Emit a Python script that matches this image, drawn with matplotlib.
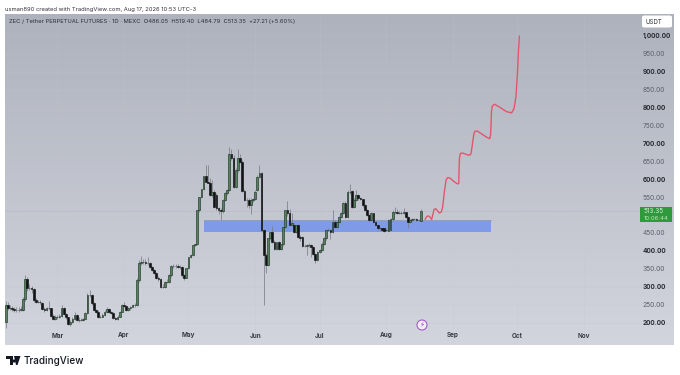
import numpy as np
import matplotlib
matplotlib.use("Agg")
import matplotlib.pyplot as plt
from matplotlib.patches import Rectangle, FancyBboxPatch, Circle, Polygon

# daily candles, Feb 5 -> Aug 17
opens = [204,250,241,241,240,237,237,237,237,267,
         323,297,297,294,264,260,260,255,239,237,
         241,241,221,213,216,218,220,241,225,216,
         199,203,213,223,209,209,209,213,229,278,
         278,255,237,232,218,218,223,232,239,232,
         229,215,213,218,232,250,248,237,241,246,
         250,252,320,367,371,371,367,367,357,348,
         339,325,323,302,302,315,315,334,359,359,
         359,357,357,334,327,353,385,390,418,422,
         515,552,575,610,594,591,557,566,557,520,
         515,512,543,562,571,671,659,580,628,659,
         650,569,543,543,529,543,545,571,608,619,
         459,390,362,436,455,427,408,427,408,420,
         469,515,506,473,473,455,473,441,439,416,
         416,418,418,413,394,376,399,404,422,436,
         459,461,455,483,469,483,497,506,534,497,
         566,568,524,543,557,548,545,529,515,501,
         487,506,483,474,464,464,464,461,458,460,
         489,511,511,508,508,508,509,497,483,488,
         490,491,488,486.05]
closes = [250,241,241,240,237,237,237,239,267,323,
          297,297,294,264,260,260,258,239,237,241,
          241,221,213,216,218,220,241,225,216,199,
          203,213,223,209,209,209,211,229,278,278,
          255,237,232,218,218,223,232,239,232,229,
          215,213,218,232,250,248,237,241,246,250,
          252,320,367,371,371,367,367,357,348,339,
          325,323,302,302,315,315,334,359,359,359,
          357,357,334,327,353,385,390,418,422,515,
          552,575,610,594,591,557,566,524,520,515,
          512,543,562,571,671,659,580,628,659,650,
          569,543,543,529,543,545,566,608,619,459,
          390,362,436,455,427,408,427,408,420,469,
          515,506,473,478,455,473,441,436,416,416,
          418,418,413,394,376,399,404,422,436,459,
          461,455,483,469,483,497,506,534,497,566,
          566,524,543,557,548,545,529,515,501,487,
          506,483,474,464,464,461,458,460,487,489,
          511,511,508,508,508,509,497,483,488,490,
          491,488,486.14,513.35]
highs = [262,258,252,248,246,246,245,247,272,335,
         330,310,305,298,270,266,264,258,246,246,
         262,243,226,222,222,226,250,244,228,218,
         210,218,232,226,216,214,215,232,285,292,
         282,258,240,236,224,228,236,244,241,234,
         232,218,222,235,254,258,252,244,248,253,
         256,325,375,388,380,378,385,370,360,352,
         342,332,326,310,318,322,338,362,366,364,
         365,362,360,338,340,358,392,396,422,430,
         520,556,580,640,640,605,600,572,562,524,
         520,546,566,575,690,685,668,632,685,672,
         655,574,548,548,548,550,570,612,640,622,
         462,395,366,440,470,432,414,430,414,424,
         472,540,518,508,480,462,476,445,442,420,
         422,424,422,416,396,402,408,425,440,462,
         465,463,515,488,486,500,510,538,540,570,
         587,570,548,570,560,552,547,532,518,504,
         510,508,486,476,468,466,466,464,490,494,
         514,525,518,512,512,520,510,500,490,493,
         493,494,491,519.40]
lows = [187,238,236,235,231,232,231,233,235,262,
        290,292,285,260,256,256,254,236,232,234,
        236,217,208,210,212,214,218,222,212,194,
        193,200,210,206,204,205,206,212,226,272,
        250,234,228,214,214,216,220,228,228,225,
        212,208,210,216,230,244,234,234,238,244,
        246,248,315,362,366,362,362,354,345,336,
        322,318,298,298,298,312,312,330,354,355,
        353,352,330,320,325,350,382,386,414,418,
        510,548,570,605,590,555,552,520,515,505,
        487,508,540,558,568,655,576,576,622,645,
        565,540,525,520,505,538,542,568,604,455,
        252,339,358,432,424,405,404,404,404,416,
        465,500,470,470,450,450,438,430,412,412,
        390,413,385,390,367,372,396,400,418,432,
        456,435,452,465,465,480,494,503,492,494,
        560,520,520,540,544,542,525,512,498,484,
        484,480,470,460,460,457,455,456,456,484,
        486,505,504,504,503,504,494,465,480,485,
        488,486,484,484.79]

# hand drawn forecast line (day number, price)
drawn_days = [195.0,195.8,196.6,197.4,198.1,198.6,199.2,200.0,200.8,201.7,202.6,203.2,204.0,
              204.8,205.6,206.7,208.2,209.8,210.4,210.7,210.8,211.0,211.5,212.5,215.2,216.3,
              216.9,217.7,218.3,219.4,221.4,223.7,225.1,225.5,225.7,225.9,226.3,227.4,229.9,
              233.0,235.3,236.4,237.3,238.0,238.4,238.9]
drawn_prices = [489,497,499,495,489,501,517,519,513,507,510,523,566,
                599,606,604,596,589,588,590,617,659,673,674,668,670,
                692,727,735,735,727,718,714,724,752,789,805,810,801,
                789,786,798,831,896,952,1000]

# zone box
zone_days = [92.2, 225.9]
zone_prices = [454, 487.5]

month_days = [24, 55, 85, 116, 146, 177, 208, 238, 269]
month_names = ["Mar", "Apr", "May", "Jun", "Jul", "Aug", "Sep", "Oct", "Nov"]
price_ticks = [1000, 950, 900, 850, 800, 750, 700, 650, 600, 550, 450, 400, 350, 300, 250, 200]
last_price = 513.35

W, H = 680, 375
fig = plt.figure(figsize=(W / 100, H / 100), dpi=100, facecolor="white")
plt.rcParams["font.family"] = ["Inter", "DejaVu Sans"]

ax = fig.add_axes([5 / W, (H - 345) / H, 669 / W, 331.5 / H])

# grey gradient behind everything
grad = np.linspace(0, 1, 256).reshape(-1, 1)
cmap = matplotlib.colors.LinearSegmentedColormap.from_list("bg", ["#aeb2bc", "#d2d5de"])
ax.imshow(grad, extent=[-0.33, 310.8, 139.3, 1062.7], aspect="auto", cmap=cmap, zorder=0, origin="upper")
ax.set_xlim(-0.33, 310.8)
ax.set_ylim(139.3, 1062.7)

for s in ax.spines.values():
    s.set_visible(False)

ax.set_xticks(month_days)
ax.set_xticklabels(month_names, fontsize=4.6, fontweight="bold", color="#3a3d46")
ax.tick_params(axis="x", length=0, pad=-9, direction="in")
ax.set_yticks(price_ticks + [500])
ax.set_yticklabels([])
ax.tick_params(axis="y", length=0)
ax.grid(True, color="#c3c6cf", lw=0.4, alpha=0.35, zorder=1)
ax.set_axisbelow(True)

# zone
ax.add_patch(Rectangle((zone_days[0], zone_prices[0]), zone_days[1] - zone_days[0],
                       zone_prices[1] - zone_prices[0], facecolor="#7f9be8", edgecolor="none", zorder=2))
ax.plot(zone_days, [zone_prices[1], zone_prices[1]], color="#9aa0ad", lw=0.6, zorder=2)

# candles
days = np.arange(len(opens))
o = np.array(opens, dtype=float)
c = np.array(closes, dtype=float)
up = c >= o
ax.vlines(days, lows, highs, color="#7b7e86", lw=0.55, zorder=3)
ax.bar(days, np.abs(c - o), bottom=np.minimum(o, c), width=0.8,
       color=np.where(up, "#55845c", "#101214"), edgecolor=np.where(up, "#23352a", "#101214"),
       linewidth=0.45, zorder=4)

# forecast
ax.plot(drawn_days, drawn_prices, color="#e2566d", lw=1.0, zorder=5,
        solid_joinstyle="round", solid_capstyle="round")

# last price line
ax.axhline(last_price, color="#a4a7b0", lw=0.5, ls=(0, (1, 2)), zorder=1)

# price scale labels
for p in price_ticks:
    bold = p % 100 == 0
    ax.text(296.3, p, f"{p:,.2f}", fontsize=4.7 if bold else 4.8, va="center", ha="left",
            fontweight="bold" if bold else "normal",
            color="#2b2e36" if bold else "#5c606b", zorder=6)

# green price badge
fig.add_artist(Rectangle((640 / W, (H - 222.3) / H), 32 / W, 15 / H, facecolor="#2f9a3c",
                         edgecolor="none", transform=fig.transFigure))
fig.text(644 / W, (H - 211.3) / H, f"{last_price:.2f}", fontsize=4.6, color="#d8efd9", va="center")
fig.text(644 / W, (H - 218) / H, "10:06:44", fontsize=4.3, color="#bfe3c2", va="center")

# USDT button
fig.add_artist(FancyBboxPatch((642 / W, (H - 27.5) / H), 30 / W, 12 / H,
                              boxstyle="round,pad=0,rounding_size=0.004", facecolor="white",
                              edgecolor="none", transform=fig.transFigure))
fig.text(645 / W, (H - 21.5) / H, "USDT", fontsize=4.4, color="#30333b", va="center")

# header text
fig.text(5 / W, (H - 9) / H, "usman890 created with TradingView.com, Aug 17, 2026 10:53 UTC-3",
         fontsize=4.2, color="#30333b", va="center")
fig.text(9 / W, (H - 22) / H,
         "ZEC / Tether PERPETUAL FUTURES · 1D · MEXC  O486.05  H519.40  L484.79  C513.35  +27.21 (+5.60%)",
         fontsize=4.2, color="#2c2f38", va="center")

# lightning marker
fig.add_artist(Circle((422, H - 325), 5, facecolor="#f2eef6", edgecolor="#a05bc8", lw=0.8, transform=None))
fig.text(422 / W, (H - 325) / H, "⚡", fontsize=5, color="#a03cc8", va="center", ha="center",
         family="DejaVu Sans")

# TradingView logo
logo1 = [(6, 356), (13, 356), (13, 365), (9.5, 365), (9.5, 359.3), (6, 359.3)]
logo2 = [(16, 365), (17.5, 365), (20.5, 356), (14, 356)]
for pts in (logo1, logo2):
    fig.add_artist(Polygon([(x / W, (H - y) / H) for x, y in pts], closed=True, facecolor="#131722",
                           edgecolor="none", transform=fig.transFigure))
fig.add_artist(Circle((14.2, H - 361), 1.6, facecolor="#131722", edgecolor="none", transform=None))
fig.text(24 / W, (H - 360.5) / H, "TradingView", fontsize=7.1, fontweight="medium", color="#131722",
         va="center")

fig.savefig("out.png", dpi=100, facecolor="white")
